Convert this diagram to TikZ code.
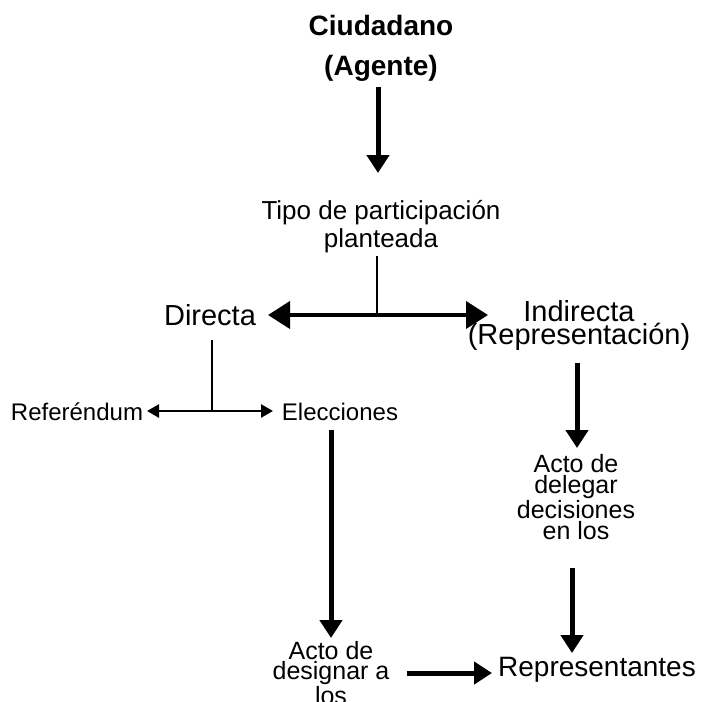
\documentclass[tikz,border=0pt]{standalone}
\usepackage{fontspec}
\setmainfont{Liberation Sans}
\usetikzlibrary{arrows.meta}

\tikzset{
  lbl/.style={inner sep=0pt, align=center, anchor=base, font=\fontsize{#1}{#1}\selectfont},
  bigarrow/.style={line width=5pt, -{Triangle[width=22pt,length=18pt]}},
  smallarrow/.style={line width=2.5pt, -{Triangle[width=13pt,length=12pt]}},
  stem/.style={line width=2pt}
}

\begin{document}
\begin{tikzpicture}[x=1pt, y=-1pt]
\useasboundingbox (0,0) rectangle (702,702);

% Agent and type of participation
\node[lbl=28, font=\fontsize{28}{40}\selectfont\bfseries] (ciud) at (381,75) {Ciudadano\\(Agente)};
\node[lbl=26, font=\fontsize{26}{28}\selectfont] (tipo) at (381,247) {Tipo de participaci\'on\\planteada};

% Two branches
\node[lbl=29] (directa) at (210,325) {Directa};
\node[lbl=29, font=\fontsize{29}{21}\selectfont] (indirecta) at (579,344) {Indirecta\\(Representaci\'on)};

% Direct branch
\node[lbl=24] (ref) at (77,420) {Refer\'endum};
\node[lbl=24] (elec) at (340,420) {Elecciones};
\node[lbl=25, font=\fontsize{25}{20}\selectfont] (designar) at (331,704) {Acto de\\designar a\\los};

% Indirect branch
\node[lbl=25, font=\fontsize{25}{21}\selectfont] (delegar) at (576,539) {Acto de\\delegar\\decisiones\\en los};
\node[lbl=28] (repr) at (597,676) {Representantes};

% Junctions
\coordinate (split) at (377,315);
\coordinate (fork) at (212,411);

% Connections
\draw[bigarrow] (378,87) -- (378,173);
\draw[stem] (377,256) -- (split);
\draw[line width=4pt, {Triangle[width=27pt,length=22pt]}-{Triangle[width=27pt,length=22pt]}] (268,315) -- (488,315);
\draw[stem] (212,340) -- (fork);
\draw[smallarrow] (fork) -- (147,411);
\draw[smallarrow] (fork) -- (273,411);
\draw[bigarrow] (331,430) -- (331,638);
\draw[bigarrow] (407,673) -- (492,673);
\draw[bigarrow] (577,363) -- (577,448);
\draw[bigarrow] (572,568) -- (572,653);

\end{tikzpicture}
\end{document}
